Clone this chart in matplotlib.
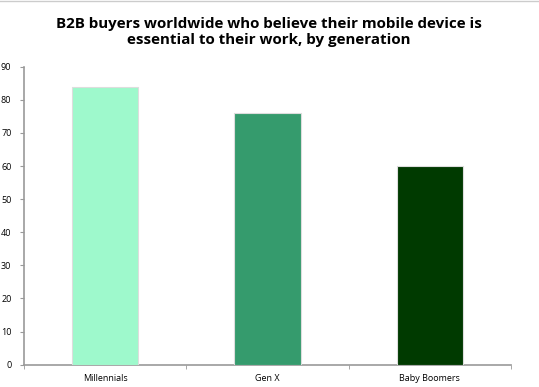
import matplotlib
matplotlib.use("Agg")
import matplotlib.pyplot as plt

# data
generations = ["Millennials", "Gen X", "Baby Boomers"]
share_pct = [84, 76, 60]
bar_colors = ["#9EF9CC", "#359B6D", "#003A00"]

plt.rcParams["font.family"] = ["Open Sans", "DejaVu Sans"]

fig = plt.figure(figsize=(5.39, 3.87), dpi=100)
ax = fig.add_axes([0.0445, 0.0576, 0.9035, 0.7701])

x = range(len(generations))
ax.bar(x, share_pct, width=0.41, color=bar_colors,
       edgecolor="#dddddd", linewidth=0.8, zorder=3)

ax.set_xlim(-0.5, len(generations) - 0.5)
ax.set_ylim(0, 90)
ax.set_yticks(range(0, 91, 10))
ax.tick_params(axis="y", labelsize=6.5, length=3, color="#999999", pad=6)

# category labels centred, tick marks at category boundaries
ax.set_xticks(list(x))
ax.set_xticklabels(generations, fontsize=6.5)
ax.tick_params(axis="x", which="major", length=0, pad=7)
ax.set_xticks([-0.5, 0.5, 1.5, 2.5], minor=True)
ax.tick_params(axis="x", which="minor", length=3, color="#999999")

for side in ["top", "right"]:
    ax.spines[side].set_visible(False)
for side in ["left", "bottom"]:
    ax.spines[side].set_color("#999999")
    ax.spines[side].set_linewidth(1.2)

fig.text(0.499, 0.918,
         "B2B buyers worldwide who believe their mobile device is\n"
         "essential to their work, by generation",
         ha="center", va="center", fontsize=10.9, fontweight="bold",
         linespacing=1.2)

fig.add_artist(plt.Line2D([0, 1], [0.998, 0.998], color="#cccccc", lw=1))

fig.savefig("out.png", dpi=100)
